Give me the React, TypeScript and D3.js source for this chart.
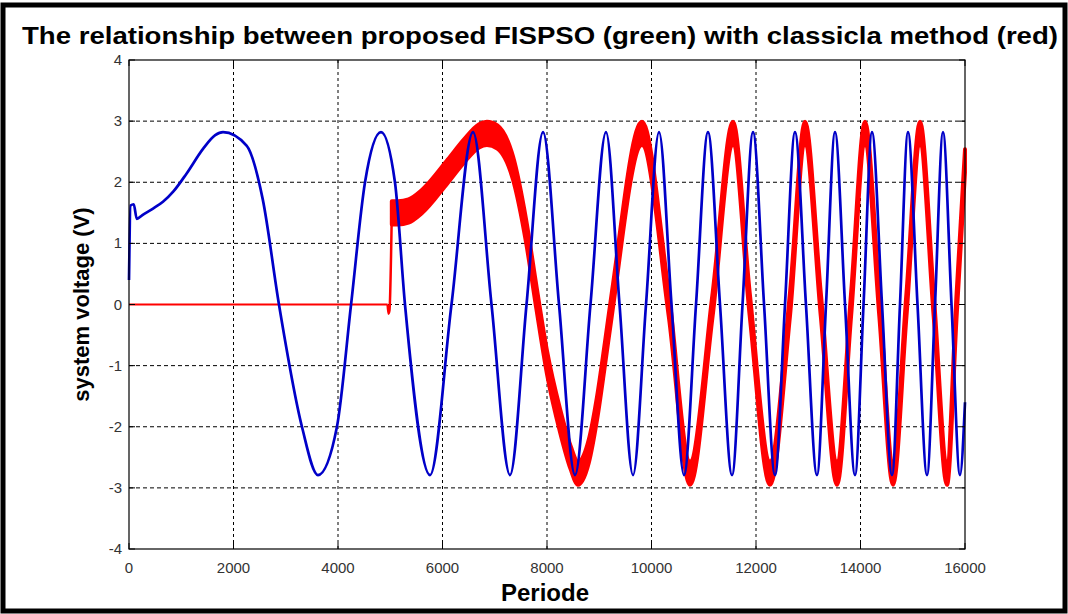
import React from "react";
import * as d3 from "d3";

const title = "The relationship between proposed FISPSO (green) with classicla method (red)";
const xLabel = "Periode";
const yLabel = "system voltage (V)";
const xTicks = [0, 2000, 4000, 6000, 8000, 10000, 12000, 14000, 16000];
const yTicks = [-4, -3, -2, -1, 0, 1, 2, 3, 4];

// blue series (time, volts) — key points
const blueSeries: [number, number][] = [
  [0, 0.4], [30, 1.62], [90, 1.64], [150, 1.4], [250, 1.46], [460, 1.57], [650, 1.68],
  [850, 1.85], [1100, 2.14], [1420, 2.55], [1650, 2.77], [1800, 2.82], [2250, 2.6], [2560, 1.72], [2870, 0],
  [3310, -2.0], [3617, -2.79], [3980, -2.0], [4250, 0], [4517, 2.0], [4823, 2.82],
  [5090, 2.0], [5282, 0], [5761, -2.79], [6172, 0], [6584, 2.82], [6938, 0],
  [7292, -2.79], [7608, 0], [7924, 2.82], [8230, 0], [8536, -2.79], [8832, 0],
  [9129, 2.82], [9388, 0], [9646, -2.79], [9895, 0], [10144, 2.82], [10383, 0],
  [10622, -2.79], [10852, 0], [11081, 2.82], [11311, 0], [11541, -2.79], [11742, 0],
  [11943, 2.82], [12154, 0], [12364, -2.79], [12555, 0], [12746, 2.82], [12956, 0],
  [13167, -2.79], [13340, 0], [13512, 2.82], [13704, 0], [13895, -2.79], [14058, 0],
  [14220, 2.82], [14412, 0], [14603, -2.79], [14756, 0], [14909, 2.82], [15091, 0],
  [15273, -2.79], [15426, 0], [15579, 2.82], [15742, 0], [15904, -2.79], [16000, -1.6],
];

// red series flat part (before the switch-on)
const redFlat: [number, number][] = [[0, 0], [4950, 0]];
// red series after switch-on (centre of the thick band)
const redSeries: [number, number][] = [
  [4950, 0], [4965, -0.15], [4985, -0.1], [5030, 1.5], [5150, 1.5], [5350, 1.53],
  [5600, 1.68], [6100, 2.18], [6400, 2.5], [6700, 2.76], [6850, 2.8], [7050, 2.74],
  [7350, 2.23], [7600, 1.2], [7800, 0.1], [8000, -0.95], [8250, -1.9], [8450, -2.5],
  [8593, -2.76], [8800, -2.4], [8957, -1.7], [9110, -0.8], [9240, 0], [9818, 2.8],
  [10330, 0], [10737, -2.76], [11170, 0], [11560, 2.8], [11880, 0], [12268, -2.76],
  [12650, 0], [12938, 2.8], [13240, 0], [13550, -2.76], [13820, 0], [14086, 2.8],
  [14360, 0], [14622, -2.76], [14880, 0], [15139, 2.8], [15400, 0], [15655, -2.76],
  [15840, 0], [16000, 2.35],
];

export default function App() {
  const W = 1068, H = 614;
  const x = d3.scaleLinear().domain([0, 16000]).range([129, 965]);
  const y = d3.scaleLinear().domain([-4, 4]).range([549, 60]);
  const font = "'Liberation Sans', Arial, sans-serif";

  const line = d3.line<[number, number]>()
    .x(d => x(d[0])).y(d => y(d[1])).curve(d3.curveMonotoneX);
  const band = 0.19;
  const area = d3.area<[number, number]>()
    .x(d => x(d[0]))
    .y0(d => y(d[1] - band))
    .y1(d => y(d[1] + band))
    .curve(d3.curveMonotoneX);
  const redBand = redSeries.slice(3);

  return (
    <svg width={W} height={H} style={{ position: "absolute", left: 0, top: 0, background: "#fff" }}>
      <rect x={0} y={0} width={W} height={H} fill="#fff" />
      {/* outer frame */}
      <rect x={3} y={5} width={W - 6} height={H - 8} fill="none" stroke="#000" strokeWidth={5} />
      <text x={22} y={44} fontFamily={font} fontWeight="bold" fontSize={23} fill="#000"
        textLength={1036} lengthAdjust="spacingAndGlyphs">{title}</text>

      {/* grid */}
      {yTicks.slice(1, -1).map(t => (
        <line key={"gy" + t} x1={x(0)} x2={x(16000)} y1={y(t)} y2={y(t)} stroke="#000"
          strokeWidth={1} strokeDasharray="4,3" />
      ))}
      {xTicks.slice(1, -1).map(t => (
        <line key={"gx" + t} x1={x(t)} x2={x(t)} y1={y(-4)} y2={y(4)} stroke="#000"
          strokeWidth={1} strokeDasharray="3,3" />
      ))}

      {/* red */}
      <path d={line(redFlat) || ""} fill="none" stroke="#f00" strokeWidth={2.2} />
      <path d={line(redSeries.slice(0, 4)) || ""} fill="none" stroke="#f00" strokeWidth={2.5} />
      <path d={area(redBand) || ""} fill="#f00" stroke="#f00" strokeWidth={4} strokeLinejoin="round" />

      {/* blue */}
      <path d={line(blueSeries) || ""} fill="none" stroke="#0000c8" strokeWidth={2.7} strokeLinejoin="round" />

      {/* axes box */}
      <rect x={x(0)} y={y(4)} width={x(16000) - x(0)} height={y(-4) - y(4)} fill="none" stroke="#000" strokeWidth={1.2} />
      {xTicks.map(t => (
        <g key={"xt" + t}>
          <line x1={x(t)} x2={x(t)} y1={y(-4)} y2={y(-4) - 6} stroke="#000" />
          <line x1={x(t)} x2={x(t)} y1={y(4)} y2={y(4) + 6} stroke="#000" />
          <text x={x(t)} y={573} textAnchor="middle" fontFamily={font} fontSize={15} fill="#333">{t}</text>
        </g>
      ))}
      {yTicks.map(t => (
        <g key={"yt" + t}>
          <line x1={x(0)} x2={x(0) + 6} y1={y(t)} y2={y(t)} stroke="#000" />
          <line x1={x(16000)} x2={x(16000) - 6} y1={y(t)} y2={y(t)} stroke="#000" />
          <text x={122} y={y(t) + 5} textAnchor="end" fontFamily={font} fontSize={15} fill="#333">{t}</text>
        </g>
      ))}

      <text x={545} y={601} textAnchor="middle" fontFamily={font} fontWeight="bold" fontSize={24} fill="#000">{xLabel}</text>
      <text transform={`translate(89,${y(0)}) rotate(-90)`} textAnchor="middle" fontFamily={font}
        fontWeight="bold" fontSize={22} fill="#000">{yLabel}</text>
    </svg>
  );
}
